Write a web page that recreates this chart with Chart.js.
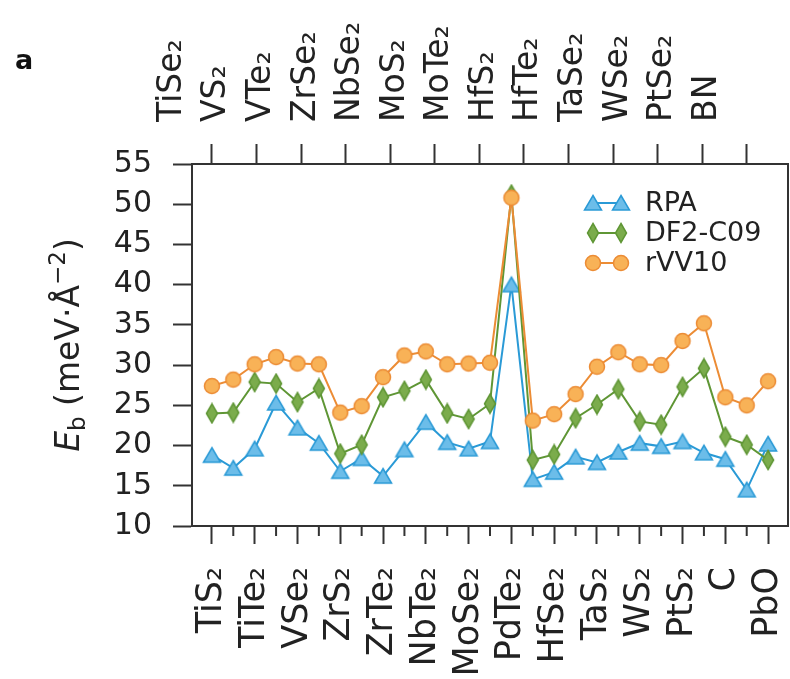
<!DOCTYPE html>
<html>
<head>
<meta charset="utf-8">
<script src="https://cdn.jsdelivr.net/npm/chart.js@4.4.1/dist/chart.umd.min.js"></script>
<style>
html, body { margin: 0; padding: 0; background: #fff; }
#c { display: block; }
</style>
</head>
<body>
<canvas id="c" width="790" height="679"></canvas>
<script>
// materials in plotting order (even ones labelled at the bottom, odd ones on top)
const materials = ['TiS₂', 'TiSe₂', 'TiTe₂', 'VS₂', 'VSe₂', 'VTe₂', 'ZrS₂', 'ZrSe₂', 'ZrTe₂',
  'NbSe₂', 'NbTe₂', 'MoS₂', 'MoSe₂', 'MoTe₂', 'PdTe₂', 'HfS₂', 'HfSe₂', 'HfTe₂', 'TaS₂',
  'TaSe₂', 'WS₂', 'WSe₂', 'PtS₂', 'PtSe₂', 'C', 'BN', 'PbO'];
const topLabels = ['TiSe₂', 'VS₂', 'VTe₂', 'ZrSe₂', 'NbSe₂', 'MoS₂', 'MoTe₂', 'HfS₂', 'HfTe₂',
  'TaSe₂', 'WSe₂', 'PtSe₂', 'BN'];
const rpa = [18.8, 17.2, 19.6, 25.3, 22.2, 20.3, 16.8, 18.4, 16.2, 19.5, 22.9, 20.4, 19.6, 20.5,
  40.0, 15.8, 16.7, 18.6, 17.9, 19.2, 20.3, 19.9, 20.5, 19.1, 18.3, 14.5, 20.2];
const df2 = [24.0, 24.1, 27.9, 27.7, 25.4, 27.1, 19.0, 20.1, 26.0, 26.8, 28.2, 24.0, 23.3, 25.2,
  51.2, 18.2, 18.9, 23.4, 25.1, 27.0, 23.0, 22.6, 27.3, 29.6, 21.1, 20.1, 18.2];
const rvv10 = [27.4, 28.2, 30.1, 31.0, 30.2, 30.1, 24.1, 24.9, 28.5, 31.2, 31.7, 30.1, 30.2, 30.3,
  50.8, 23.1, 23.9, 26.4, 29.8, 31.6, 30.1, 30.0, 33.0, 35.2, 26.0, 25.0, 28.0];
const seriesNames = ['RPA', 'DF2-C09', 'rVV10'];

const FONT = 'DejaVu Sans';
const AXIS = '#333';

function marker(shape, fill, edge) {
  const c = document.createElement('canvas');
  c.width = 22; c.height = 22;
  const g = c.getContext('2d');
  g.beginPath();
  if (shape == 'tri') { g.moveTo(11, 3.5); g.lineTo(19.5, 18); g.lineTo(2.5, 18); }
  else if (shape == 'dia') { g.moveTo(11, 1.5); g.lineTo(16.5, 11); g.lineTo(11, 20.5); g.lineTo(5.5, 11); }
  else { g.arc(11, 11, 7.5, 0, Math.PI * 2); }
  g.closePath();
  g.fillStyle = fill; g.fill();
  g.lineWidth = 1.5; g.strokeStyle = edge; g.stroke();
  return c;
}

const blue = '#2a9ad6', green = '#5f9635', orange = '#ec8c35';
const triM = marker('tri', '#6cbde9', blue);
const diaM = marker('dia', '#7bac4c', green);
const cirM = marker('cir', '#f8b257', orange);
const markers = [triM, diaM, cirM];
const colors = [blue, green, orange];

function series(data, i) {
  return {
    label: seriesNames[i],
    data: data.map((v, k) => ({x: k, y: v})),
    borderColor: colors[i],
    borderWidth: 2,
    pointStyle: markers[i],
    pointRadius: 8,
    tension: 0,
    order: 2 - i
  };
}

function noPad(s, h) {
  s.height = h;
  s.paddingLeft = 0; s.paddingRight = 0;
}

const extras = {
  id: 'extras',
  afterDraw(chart) {
    const ctx = chart.ctx, area = chart.chartArea, xs = chart.scales.x;
    ctx.save();
    // minor ticks at the unlabelled materials
    ctx.strokeStyle = AXIS; ctx.lineWidth = 2;
    materials.forEach((m, i) => {
      if (i % 2) {
        const px = xs.getPixelForValue(i);
        ctx.beginPath(); ctx.moveTo(px, area.bottom); ctx.lineTo(px, area.bottom + 10); ctx.stroke();
      }
    });
    // legend
    const rows = [203, 233, 263];
    seriesNames.forEach((name, i) => {
      const y = rows[i];
      ctx.strokeStyle = colors[i]; ctx.lineWidth = 2;
      ctx.beginPath(); ctx.moveTo(593, y); ctx.lineTo(621, y); ctx.stroke();
      ctx.drawImage(markers[i], 593 - 11, y - 11);
      ctx.drawImage(markers[i], 621 - 11, y - 11);
      ctx.fillStyle = '#222'; ctx.font = '27px ' + FONT;
      ctx.textAlign = 'left'; ctx.textBaseline = 'middle';
      ctx.fillText(name, 645, y + 1);
    });
    // y axis title: E_b (meV·Å^−2)
    ctx.translate(79, (area.top + area.bottom) / 2);
    ctx.rotate(-Math.PI / 2);
    const parts = [
      {t: 'E', f: 'italic 33px ' + FONT, dy: 0},
      {t: 'b', f: '23px ' + FONT, dy: 6},
      {t: ' (meV·Å', f: '33px ' + FONT, dy: 0},
      {t: '−2', f: '23px ' + FONT, dy: -14},
      {t: ')', f: '33px ' + FONT, dy: 0}
    ];
    let w = 0;
    parts.forEach(p => { ctx.font = p.f; p.w = ctx.measureText(p.t).width; w += p.w; });
    let x = -w / 2;
    ctx.fillStyle = '#222'; ctx.textAlign = 'left'; ctx.textBaseline = 'alphabetic';
    parts.forEach(p => { ctx.font = p.f; ctx.fillText(p.t, x, p.dy); x += p.w; });
    ctx.restore();
    // panel label
    ctx.save();
    ctx.fillStyle = '#111'; ctx.font = 'bold 27px ' + FONT;
    ctx.textAlign = 'left'; ctx.textBaseline = 'alphabetic';
    ctx.fillText('a', 15, 69);
    ctx.restore();
  }
};

new Chart(document.getElementById('c'), {
  type: 'line',
  data: { datasets: [series(rpa, 0), series(df2, 1), series(rvv10, 2)] },
  options: {
    responsive: false,
    animation: false,
    events: [],
    layout: { padding: 0, autoPadding: false },
    plugins: { legend: { display: false }, tooltip: { enabled: false } },
    scales: {
      x: {
        type: 'linear', position: 'bottom', min: -0.93, max: 26.93,
        afterBuildTicks: s => { s.ticks = materials.map((m, i) => ({value: i})); },
        afterFit: s => noPad(s, 153),
        ticks: {
          autoSkip: false, minRotation: 90, maxRotation: 90, padding: 23,
          color: '#222', font: { family: FONT, size: 35 },
          callback: (v, i) => (i % 2 ? '' : materials[i])
        },
        grid: {
          drawOnChartArea: false, tickLength: 18, tickWidth: 2,
          tickColor: c => (c.index % 2 ? 'rgba(0,0,0,0)' : AXIS)
        },
        border: { color: AXIS, width: 2 }
      },
      x2: {
        type: 'linear', position: 'top', min: -0.93, max: 26.93,
        afterBuildTicks: s => { s.ticks = topLabels.map((m, k) => ({value: k * 25 / 12})); },
        afterFit: s => noPad(s, 164),
        ticks: {
          autoSkip: false, minRotation: 90, maxRotation: 90, padding: 22,
          color: '#222', font: { family: FONT, size: 33 },
          callback: (v, i) => topLabels[i]
        },
        grid: { drawOnChartArea: false, tickLength: 20, tickWidth: 2, tickColor: AXIS },
        border: { color: AXIS, width: 2 }
      },
      y: {
        position: 'left', min: 10, max: 55,
        afterBuildTicks: s => { s.ticks = [10, 15, 20, 25, 30, 35, 40, 45, 50, 55].map(v => ({value: v})); },
        afterFit: s => { s.width = 192; s.paddingTop = 0; s.paddingBottom = 0; },
        ticks: { padding: 21, color: '#222', font: { family: FONT, size: 30 } },
        grid: { drawOnChartArea: false, tickLength: 19, tickWidth: 2, tickColor: AXIS },
        border: { color: AXIS, width: 2 }
      },
      y2: {
        position: 'right', min: 10, max: 55,
        afterFit: s => { s.width = 2; s.paddingTop = 0; s.paddingBottom = 0; },
        ticks: { display: false },
        grid: { drawOnChartArea: false, drawTicks: false },
        border: { color: AXIS, width: 2 }
      }
    }
  },
  plugins: [extras]
});
</script>
</body>
</html>
